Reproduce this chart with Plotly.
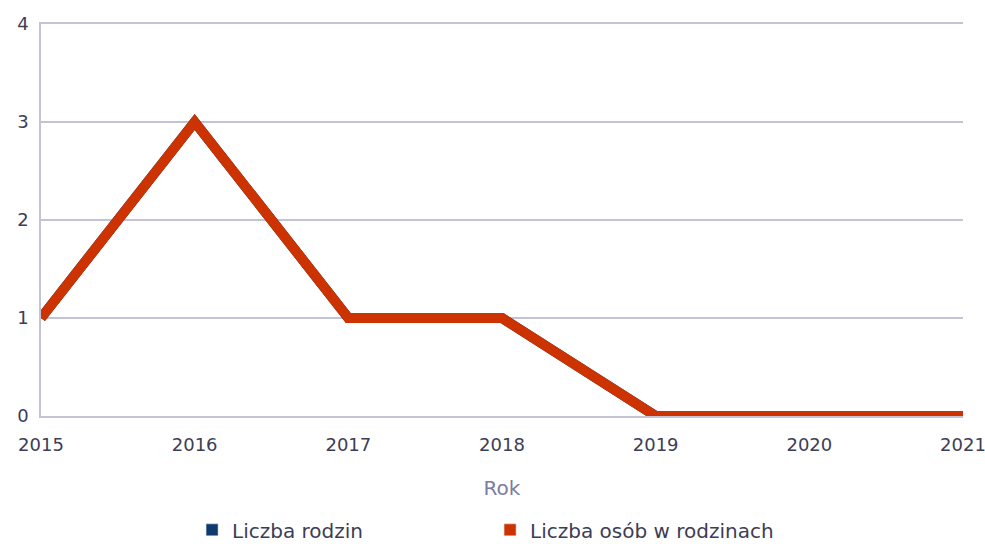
import plotly.graph_objects as go

years = [2015, 2016, 2017, 2018, 2019, 2020, 2021]
rodziny = [1, 3, 1, 1, 0, 0, 0]
osoby = [1, 3, 1, 1, 0, 0, 0]
y_ticks = [0, 1, 2, 3, 4]

blue = "#0f3a6e"
red = "#cc3300"
txt = "#3d3d55"
grid = "#c3c3d6"

fig = go.Figure()
fig.add_trace(go.Scatter(x=years, y=rodziny, mode="lines", line=dict(color=blue, width=10),
                         showlegend=False, cliponaxis=False))
fig.add_trace(go.Scatter(x=years, y=osoby, mode="lines", line=dict(color=red, width=10),
                         showlegend=False, cliponaxis=False))
fig.add_trace(go.Bar(x=[None], y=[None], name="Liczba rodzin", marker_color=blue))
fig.add_trace(go.Bar(x=[None], y=[None], name="Liczba osób w rodzinach", marker_color=red))

fig.update_layout(
    width=985, height=544,
    margin=dict(l=41, r=22, t=24, b=128, autoexpand=False),
    paper_bgcolor="white", plot_bgcolor="white",
    font=dict(family="DejaVu Sans", size=18, color=txt),
    legend=dict(orientation="h", x=0.195, xanchor="left", y=0.026, yanchor="middle",
                xref="container", yref="container", entrywidth=253,
                font=dict(size=20, color=txt)),
    xaxis=dict(range=[2015, 2021], tickvals=years, ticktext=[str(y) for y in years],
               showgrid=False, showline=True, linecolor=grid, linewidth=1.5, mirror=True,
               zeroline=False, ticks="",
               automargin=False, ticklabelstandoff=12, ticklabeloverflow="allow",
               title=dict(text="Rok", font=dict(size=20, color="#7b7ba3"), standoff=27)),
    yaxis=dict(range=[0, 4], tickvals=y_ticks, showgrid=True, gridcolor=grid, gridwidth=1.5,
               showline=True, linecolor=grid, linewidth=1.5, zeroline=False, ticks="",
               automargin=False, ticklabelstandoff=7),
)
fig.write_html("out.html", config={"displayModeBar": False},
               post_script="document.body.style.margin='0px';")
